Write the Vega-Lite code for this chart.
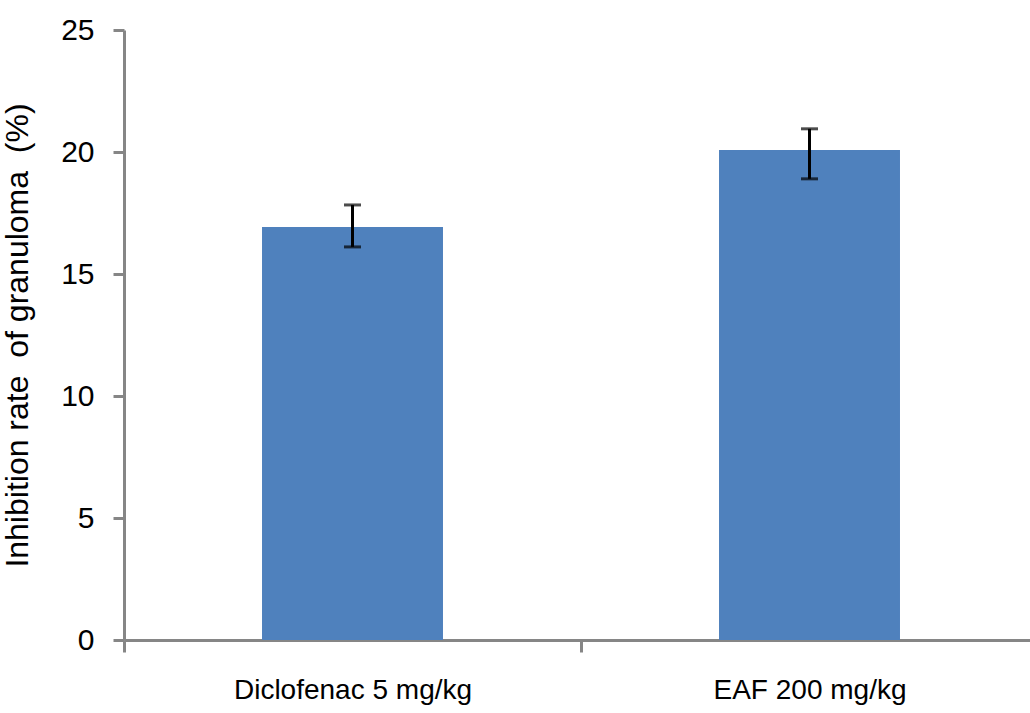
{
  "$schema": "https://vega.github.io/schema/vega-lite/v6.json",
  "width": 906,
  "height": 610,
  "autosize": {"type": "none"},
  "padding": {"left": 124, "top": 30, "right": 0, "bottom": 73},
  "background": "white",
  "config": {
    "view": {"stroke": null},
    "font": "Liberation Sans"
  },
  "data": {
    "values": [
      {"group": "Diclofenac 5 mg/kg", "value": 16.93, "lower": 16.11, "upper": 17.83},
      {"group": "EAF 200 mg/kg", "value": 20.08, "lower": 18.9, "upper": 20.95}
    ]
  },
  "encoding": {
    "x": {
      "field": "group",
      "type": "nominal",
      "sort": null,
      "scale": {"paddingInner": 0, "paddingOuter": 0, "range": [0, 914]},
      "axis": {
        "title": null,
        "labelAngle": 0,
        "labelFont": "Liberation Sans",
        "labelFontSize": 28,
        "labelLimit": 0,
        "labelColor": "#000000",
        "labelPadding": 24,
        "tickBand": "extent",
        "domainColor": "#868686",
        "domainWidth": 3,
        "tickColor": "#868686",
        "tickWidth": 3,
        "tickSize": 12,
        "grid": false
      }
    }
  },
  "layer": [
    {
      "mark": {"type": "bar", "color": "#4F81BD", "width": {"band": 0.396}},
      "encoding": {
        "y": {
          "field": "value",
          "type": "quantitative",
          "scale": {"domain": [0, 25], "nice": false},
          "axis": {
            "title": "Inhibition rate\u00a0\u00a0of granuloma\u00a0\u00a0(%)",
            "titleFont": "Liberation Sans",
            "titleFontSize": 32,
            "titleFontWeight": "normal",
            "titleColor": "#000000",
            "titlePadding": 26,
            "values": [0, 5, 10, 15, 20, 25],
            "labelFont": "Liberation Sans",
            "labelFontSize": 30,
            "labelColor": "#000000",
            "labelPadding": 19,
            "domainColor": "#868686",
            "domainWidth": 3,
            "tickColor": "#868686",
            "tickWidth": 3,
            "tickSize": 11,
            "grid": false
          }
        }
      }
    },
    {
      "mark": {"type": "rule", "color": "#000000", "strokeWidth": 3},
      "encoding": {
        "y": {"field": "lower", "type": "quantitative"},
        "y2": {"field": "upper"}
      }
    },
    {
      "mark": {"type": "tick", "color": "#000000", "size": 17, "thickness": 3},
      "encoding": {
        "y": {"field": "upper", "type": "quantitative"}
      }
    },
    {
      "mark": {"type": "tick", "color": "#000000", "size": 17, "thickness": 3},
      "encoding": {
        "y": {"field": "lower", "type": "quantitative"}
      }
    }
  ]
}
